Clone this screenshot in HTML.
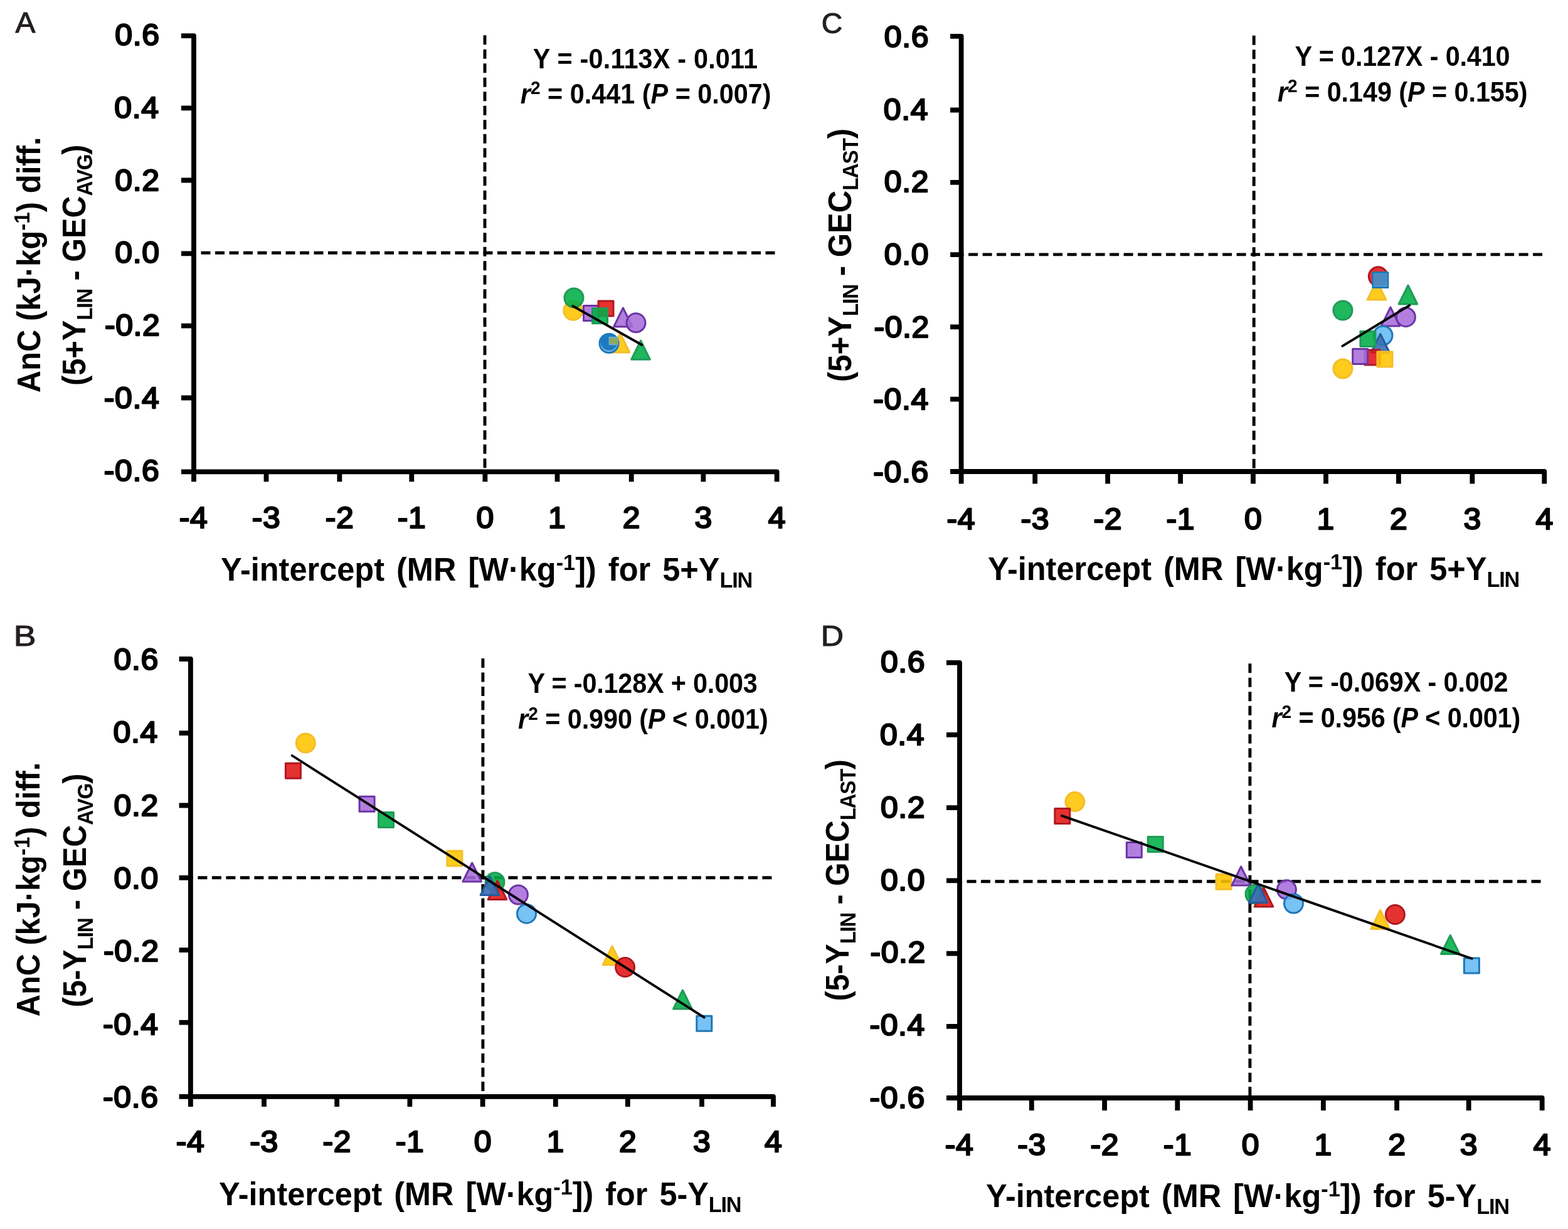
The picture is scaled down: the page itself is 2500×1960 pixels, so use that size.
<!DOCTYPE html>
<html lang="en"><head><meta charset="utf-8"><title>Figure</title>
<style>html,body{margin:0;padding:0;background:#fff}svg{display:block}text{white-space:pre}</style></head>
<body>
<svg width="2500" height="1960" viewBox="0 0 2500 1960">
<rect width="2500" height="1960" fill="#ffffff"/>
<g id="panelA">
<g stroke="#000" stroke-width="4.9" stroke-dasharray="15.0 7.5" fill="none"><line x1="309.0" y1="403.2" x2="1242.5" y2="403.2" stroke-dashoffset="11.0"/><line x1="773.0" y1="56.2" x2="773.0" y2="752.3" stroke-dashoffset="22.5"/></g>
<g><circle cx="913.8" cy="495.3" r="15.0" fill="#FFC400" fill-opacity="0.88" stroke="#F3BE2A" stroke-width="3.0" stroke-linejoin="round"/><circle cx="915.0" cy="475.0" r="15.0" fill="#00AE47" fill-opacity="0.88" stroke="#1F9A58" stroke-width="3.0" stroke-linejoin="round"/><rect x="930.5" y="487.6" width="24.0" height="24.0" fill="#A86DDB" fill-opacity="0.88" stroke="#6C34A4" stroke-width="3.0" stroke-linejoin="round"/><rect x="954.0" y="480.0" width="24.0" height="24.0" fill="#E21515" fill-opacity="0.88" stroke="#B01820" stroke-width="3.0" stroke-linejoin="round"/><rect x="944.5" y="491.7" width="24.0" height="24.0" fill="#00AE47" fill-opacity="0.88" stroke="#1F9A58" stroke-width="3.0" stroke-linejoin="round"/><polygon points="993.4,491.0 1008.2,521.0 978.6,521.0" fill="#A86DDB" fill-opacity="0.88" stroke="#6C34A4" stroke-width="3.0" stroke-linejoin="round"/><circle cx="1014.0" cy="514.8" r="15.0" fill="#A86DDB" fill-opacity="0.88" stroke="#6C34A4" stroke-width="3.0" stroke-linejoin="round"/><polygon points="989.0,532.0 1003.8,562.0 974.2,562.0" fill="#FFC400" fill-opacity="0.88" stroke="#F3BE2A" stroke-width="3.0" stroke-linejoin="round"/><circle cx="971.0" cy="547.5" r="15.0" fill="#65BAF4" fill-opacity="0.88" stroke="#1E78B6" stroke-width="3.0" stroke-linejoin="round"/><circle cx="971" cy="545.6" r="13.3" fill="#1D7AC2"/><rect x="971.4" y="537.8" width="13.6" height="11.8" fill="#8FA85E" stroke="#6FAFD6" stroke-width="1.6"/><polygon points="1021.5,543.2 1036.3,573.2 1006.7,573.2" fill="#00AE47" fill-opacity="0.88" stroke="#1F9A58" stroke-width="3.0" stroke-linejoin="round"/></g>
<line x1="913.2" y1="488.0" x2="1023.3" y2="550.0" stroke="#000" stroke-width="3.8" stroke-linecap="round"/>
<path d="M289.0 57.2 H309.0 V752.3 H1238.6 V768.3" stroke="#000" stroke-width="7.8" fill="none" stroke-linejoin="round"/>
<path d="M289.0 172.4 H309.0M289.0 287.5 H309.0M289.0 404.3 H309.0M289.0 519.6 H309.0M289.0 634.5 H309.0M289.0 752.3 H309.0M309.0 752.3 V768.3M424.5 752.3 V768.3M541.4 752.3 V768.3M656.3 752.3 V768.3M773.4 752.3 V768.3M888.5 752.3 V768.3M1006.7 752.3 V768.3M1121.4 752.3 V768.3" stroke="#000" stroke-width="7.8" fill="none"/>
</g>
<g id="panelB">
<g stroke="#000" stroke-width="4.9" stroke-dasharray="15.0 7.5" fill="none"><line x1="303.9" y1="1399.8" x2="1236.9" y2="1399.8" stroke-dashoffset="11.0"/><line x1="769.9" y1="1050.0" x2="769.9" y2="1748.8" stroke-dashoffset="22.5"/></g>
<g><circle cx="487.3" cy="1185.0" r="15.0" fill="#FFC400" fill-opacity="0.88" stroke="#F3BE2A" stroke-width="3.0" stroke-linejoin="round"/><rect x="455.4" y="1217.3" width="24.0" height="24.0" fill="#E21515" fill-opacity="0.88" stroke="#B01820" stroke-width="3.0" stroke-linejoin="round"/><rect x="573.1" y="1270.2" width="24.0" height="24.0" fill="#A86DDB" fill-opacity="0.88" stroke="#6C34A4" stroke-width="3.0" stroke-linejoin="round"/><rect x="603.5" y="1295.4" width="24.0" height="24.0" fill="#00AE47" fill-opacity="0.88" stroke="#1F9A58" stroke-width="3.0" stroke-linejoin="round"/><rect x="712.9" y="1356.9" width="24.0" height="24.0" fill="#FFC400" fill-opacity="0.88" stroke="#F3BE2A" stroke-width="3.0" stroke-linejoin="round"/><polygon points="752.7,1376.0 767.5,1406.0 737.9,1406.0" fill="#A86DDB" fill-opacity="0.88" stroke="#6C34A4" stroke-width="3.0" stroke-linejoin="round"/><circle cx="789.0" cy="1406.7" r="15.0" fill="#00AE47" fill-opacity="0.88" stroke="#1F9A58" stroke-width="3.0" stroke-linejoin="round"/><polygon points="793.0,1404.5 807.8,1434.5 778.2,1434.5" fill="#E21515" fill-opacity="0.88" stroke="#B01820" stroke-width="3.0" stroke-linejoin="round"/><polygon points="781.0,1397.5 795.8,1427.5 766.2,1427.5" fill="#3D6FB4" fill-opacity="0.92" stroke="#235C9E" stroke-width="3.0" stroke-linejoin="round"/><circle cx="826.4" cy="1427.0" r="15.0" fill="#A86DDB" fill-opacity="0.88" stroke="#6C34A4" stroke-width="3.0" stroke-linejoin="round"/><circle cx="839.5" cy="1457.2" r="15.0" fill="#65BAF4" fill-opacity="0.88" stroke="#1E78B6" stroke-width="3.0" stroke-linejoin="round"/><polygon points="976.0,1508.8 990.8,1538.8 961.2,1538.8" fill="#FFC400" fill-opacity="0.88" stroke="#F3BE2A" stroke-width="3.0" stroke-linejoin="round"/><circle cx="996.6" cy="1542.6" r="15.0" fill="#E21515" fill-opacity="0.88" stroke="#B01820" stroke-width="3.0" stroke-linejoin="round"/><polygon points="1088.4,1579.0 1103.2,1609.0 1073.6,1609.0" fill="#00AE47" fill-opacity="0.88" stroke="#1F9A58" stroke-width="3.0" stroke-linejoin="round"/><rect x="1110.8" y="1620.3" width="24.0" height="24.0" fill="#65BAF4" fill-opacity="0.88" stroke="#1E78B6" stroke-width="3.0" stroke-linejoin="round"/></g>
<line x1="465.7" y1="1205.0" x2="1122.8" y2="1622.6" stroke="#000" stroke-width="3.8" stroke-linecap="round"/>
<path d="M285.6 1051.0 H303.9 V1748.8 H1233.0 V1765.1" stroke="#000" stroke-width="7.8" fill="none" stroke-linejoin="round"/>
<path d="M285.6 1169.2 H303.9M285.6 1284.5 H303.9M285.6 1399.9 H303.9M285.6 1515.2 H303.9M285.6 1630.6 H303.9M285.6 1748.8 H303.9M303.9 1748.8 V1765.1M421.0 1748.8 V1765.1M537.2 1748.8 V1765.1M653.4 1748.8 V1765.1M769.6 1748.8 V1765.1M885.8 1748.8 V1765.1M1000.8 1748.8 V1765.1M1119.0 1748.8 V1765.1" stroke="#000" stroke-width="7.8" fill="none"/>
</g>
<g id="panelC">
<g stroke="#000" stroke-width="4.9" stroke-dasharray="15.0 7.5" fill="none"><line x1="1532.6" y1="405.9" x2="2466.2" y2="405.9" stroke-dashoffset="11.0"/><line x1="1999.2" y1="56.8" x2="1999.2" y2="752.0" stroke-dashoffset="22.5"/></g>
<g><polygon points="2195.0,448.0 2209.8,478.0 2180.2,478.0" fill="#FFC400" fill-opacity="0.88" stroke="#F3BE2A" stroke-width="3.0" stroke-linejoin="round"/><circle cx="2197.3" cy="440.8" r="15.0" fill="#E21515" fill-opacity="0.88" stroke="#B01820" stroke-width="3.0" stroke-linejoin="round"/><rect x="2188.9" y="434.4" width="24.0" height="24.0" fill="#65BAF4" fill-opacity="0.88" stroke="#1E78B6" stroke-width="3.0" stroke-linejoin="round"/><rect x="2190.9" y="436.4" width="20" height="20" fill="#3F7FB8" fill-opacity="0.75"/><circle cx="2141.0" cy="495.0" r="15.0" fill="#00AE47" fill-opacity="0.88" stroke="#1F9A58" stroke-width="3.0" stroke-linejoin="round"/><polygon points="2245.0,455.0 2259.8,485.0 2230.2,485.0" fill="#00AE47" fill-opacity="0.88" stroke="#1F9A58" stroke-width="3.0" stroke-linejoin="round"/><polygon points="2217.0,490.0 2231.8,520.0 2202.2,520.0" fill="#A86DDB" fill-opacity="0.88" stroke="#6C34A4" stroke-width="3.0" stroke-linejoin="round"/><circle cx="2241.4" cy="505.7" r="15.0" fill="#A86DDB" fill-opacity="0.88" stroke="#6C34A4" stroke-width="3.0" stroke-linejoin="round"/><circle cx="2205.0" cy="535.0" r="15.0" fill="#65BAF4" fill-opacity="0.88" stroke="#1E78B6" stroke-width="3.0" stroke-linejoin="round"/><polygon points="2200.8,532.5 2215.6,562.5 2186.0,562.5" fill="#3D6FB4" fill-opacity="0.92" stroke="#235C9E" stroke-width="3.0" stroke-linejoin="round"/><rect x="2169.0" y="528.5" width="24.0" height="24.0" fill="#00AE47" fill-opacity="0.88" stroke="#1F9A58" stroke-width="3.0" stroke-linejoin="round"/><rect x="2176.0" y="558.0" width="24.0" height="24.0" fill="#E21515" fill-opacity="0.88" stroke="#B01820" stroke-width="3.0" stroke-linejoin="round"/><rect x="2156.7" y="556.6" width="24.0" height="24.0" fill="#A86DDB" fill-opacity="0.88" stroke="#6C34A4" stroke-width="3.0" stroke-linejoin="round"/><rect x="2196.0" y="561.0" width="24.0" height="24.0" fill="#FFC400" fill-opacity="0.88" stroke="#F3BE2A" stroke-width="3.0" stroke-linejoin="round"/><circle cx="2141.0" cy="588.0" r="15.0" fill="#FFC400" fill-opacity="0.88" stroke="#F3BE2A" stroke-width="3.0" stroke-linejoin="round"/></g>
<line x1="2140.4" y1="551.8" x2="2247.2" y2="487.1" stroke="#000" stroke-width="3.8" stroke-linecap="round"/>
<path d="M1515.1 57.8 H1532.6 V752.0 H2462.3 V771.4" stroke="#000" stroke-width="7.8" fill="none" stroke-linejoin="round"/>
<path d="M1515.1 175.5 H1532.6M1515.1 290.8 H1532.6M1515.1 406.1 H1532.6M1515.1 521.4 H1532.6M1515.1 636.7 H1532.6M1515.1 752.0 H1532.6M1532.6 752.0 V771.4M1650.2 752.0 V771.4M1766.1 752.0 V771.4M1882.1 752.0 V771.4M1998.0 752.0 V771.4M2114.0 752.0 V771.4M2229.9 752.0 V771.4M2347.4 752.0 V771.4" stroke="#000" stroke-width="7.8" fill="none"/>
</g>
<g id="panelD">
<g stroke="#000" stroke-width="4.9" stroke-dasharray="15.0 7.5" fill="none"><line x1="1530.0" y1="1405.7" x2="2462.6" y2="1405.7" stroke-dashoffset="11.0"/><line x1="1992.9" y1="1055.8" x2="1992.9" y2="1751.0" stroke-dashoffset="20.0"/></g>
<g><circle cx="1713.8" cy="1278.6" r="15.0" fill="#FFC400" fill-opacity="0.88" stroke="#F3BE2A" stroke-width="3.0" stroke-linejoin="round"/><rect x="1681.8" y="1289.6" width="24.0" height="24.0" fill="#E21515" fill-opacity="0.88" stroke="#B01820" stroke-width="3.0" stroke-linejoin="round"/><rect x="1796.3" y="1343.6" width="24.0" height="24.0" fill="#A86DDB" fill-opacity="0.88" stroke="#6C34A4" stroke-width="3.0" stroke-linejoin="round"/><rect x="1830.2" y="1334.5" width="24.0" height="24.0" fill="#00AE47" fill-opacity="0.88" stroke="#1F9A58" stroke-width="3.0" stroke-linejoin="round"/><rect x="1939.0" y="1394.2" width="24.0" height="24.0" fill="#FFC400" fill-opacity="0.88" stroke="#F3BE2A" stroke-width="3.0" stroke-linejoin="round"/><polygon points="1978.7,1382.0 1993.5,1412.0 1963.9,1412.0" fill="#A86DDB" fill-opacity="0.88" stroke="#6C34A4" stroke-width="3.0" stroke-linejoin="round"/><circle cx="2001.0" cy="1426.0" r="15.0" fill="#00AE47" fill-opacity="0.88" stroke="#1F9A58" stroke-width="3.0" stroke-linejoin="round"/><polygon points="2015.0,1416.0 2029.8,1446.0 2000.2,1446.0" fill="#E21515" fill-opacity="0.88" stroke="#B01820" stroke-width="3.0" stroke-linejoin="round"/><polygon points="2006.0,1409.5 2020.8,1439.5 1991.2,1439.5" fill="#3D6FB4" fill-opacity="0.92" stroke="#235C9E" stroke-width="3.0" stroke-linejoin="round"/><circle cx="2051.4" cy="1418.8" r="15.0" fill="#A86DDB" fill-opacity="0.88" stroke="#6C34A4" stroke-width="3.0" stroke-linejoin="round"/><circle cx="2062.5" cy="1441.0" r="15.0" fill="#65BAF4" fill-opacity="0.88" stroke="#1E78B6" stroke-width="3.0" stroke-linejoin="round"/><polygon points="2200.7,1451.5 2215.5,1481.5 2185.9,1481.5" fill="#FFC400" fill-opacity="0.88" stroke="#F3BE2A" stroke-width="3.0" stroke-linejoin="round"/><circle cx="2224.4" cy="1458.6" r="15.0" fill="#E21515" fill-opacity="0.88" stroke="#B01820" stroke-width="3.0" stroke-linejoin="round"/><polygon points="2312.3,1491.5 2327.1,1521.5 2297.5,1521.5" fill="#00AE47" fill-opacity="0.88" stroke="#1F9A58" stroke-width="3.0" stroke-linejoin="round"/><rect x="2334.4" y="1528.0" width="24.0" height="24.0" fill="#65BAF4" fill-opacity="0.88" stroke="#1E78B6" stroke-width="3.0" stroke-linejoin="round"/></g>
<line x1="1692.8" y1="1300.9" x2="2346.7" y2="1528.8" stroke="#000" stroke-width="3.8" stroke-linecap="round"/>
<path d="M1509.0 1056.8 H1530.0 V1751.0 H2458.7 V1771.0" stroke="#000" stroke-width="7.8" fill="none" stroke-linejoin="round"/>
<path d="M1509.0 1171.8 H1530.0M1509.0 1288.1 H1530.0M1509.0 1404.3 H1530.0M1509.0 1520.6 H1530.0M1509.0 1636.9 H1530.0M1509.0 1751.0 H1530.0M1530.0 1751.0 V1771.0M1644.8 1751.0 V1771.0M1761.1 1751.0 V1771.0M1877.3 1751.0 V1771.0M1993.6 1751.0 V1771.0M2109.9 1751.0 V1771.0M2227.1 1751.0 V1771.0M2341.7 1751.0 V1771.0" stroke="#000" stroke-width="7.8" fill="none"/>
</g>
<g id="labels">
<g transform="translate(24.60 52.30) scale(1.0188 1)"><text font-family="Liberation Sans, sans-serif" font-weight="normal" font-size="47" fill="#231f20" stroke="#231f20" stroke-width="1.1" stroke-linejoin="round" letter-spacing="0.000"><tspan>A</tspan></text></g>
<g transform="translate(21.78 1029.50) scale(1.1385 1)"><text font-family="Liberation Sans, sans-serif" font-weight="normal" font-size="47" fill="#231f20" stroke="#231f20" stroke-width="1.1" stroke-linejoin="round" letter-spacing="0.000"><tspan>B</tspan></text></g>
<g transform="translate(1309.63 52.60) scale(0.9871 1)"><text font-family="Liberation Sans, sans-serif" font-weight="normal" font-size="47" fill="#231f20" stroke="#231f20" stroke-width="1.1" stroke-linejoin="round" letter-spacing="0.000"><tspan>C</tspan></text></g>
<g transform="translate(1308.79 1029.50) scale(1.0690 1)"><text font-family="Liberation Sans, sans-serif" font-weight="normal" font-size="47" fill="#231f20" stroke="#231f20" stroke-width="1.1" stroke-linejoin="round" letter-spacing="0.000"><tspan>D</tspan></text></g>
<g transform="translate(183.36 71.80) scale(1.0300 1)"><text font-family="Liberation Sans, sans-serif" font-weight="normal" font-size="48.5" fill="#000" stroke="#000" stroke-width="2.4" stroke-linejoin="round" letter-spacing="0.600"><tspan>0.6</tspan></text></g>
<g transform="translate(182.33 187.65) scale(1.0300 1)"><text font-family="Liberation Sans, sans-serif" font-weight="normal" font-size="48.5" fill="#000" stroke="#000" stroke-width="2.4" stroke-linejoin="round" letter-spacing="0.600"><tspan>0.4</tspan></text></g>
<g transform="translate(183.36 303.50) scale(1.0300 1)"><text font-family="Liberation Sans, sans-serif" font-weight="normal" font-size="48.5" fill="#000" stroke="#000" stroke-width="2.4" stroke-linejoin="round" letter-spacing="0.600"><tspan>0.2</tspan></text></g>
<g transform="translate(183.36 419.35) scale(1.0300 1)"><text font-family="Liberation Sans, sans-serif" font-weight="normal" font-size="48.5" fill="#000" stroke="#000" stroke-width="2.4" stroke-linejoin="round" letter-spacing="0.600"><tspan>0.0</tspan></text></g>
<g transform="translate(166.88 535.20) scale(1.0300 1)"><text font-family="Liberation Sans, sans-serif" font-weight="normal" font-size="48.5" fill="#000" stroke="#000" stroke-width="2.4" stroke-linejoin="round" letter-spacing="0.600"><tspan>-0.2</tspan></text></g>
<g transform="translate(165.85 651.05) scale(1.0300 1)"><text font-family="Liberation Sans, sans-serif" font-weight="normal" font-size="48.5" fill="#000" stroke="#000" stroke-width="2.4" stroke-linejoin="round" letter-spacing="0.600"><tspan>-0.4</tspan></text></g>
<g transform="translate(165.85 766.90) scale(1.0300 1)"><text font-family="Liberation Sans, sans-serif" font-weight="normal" font-size="48.5" fill="#000" stroke="#000" stroke-width="2.4" stroke-linejoin="round" letter-spacing="0.600"><tspan>-0.6</tspan></text></g>
<g transform="translate(285.83 841.80) scale(1.0300 1)"><text font-family="Liberation Sans, sans-serif" font-weight="normal" font-size="48.5" fill="#000" stroke="#000" stroke-width="2.4" stroke-linejoin="round" letter-spacing="0.600"><tspan>-4</tspan></text></g>
<g transform="translate(401.84 841.80) scale(1.0300 1)"><text font-family="Liberation Sans, sans-serif" font-weight="normal" font-size="48.5" fill="#000" stroke="#000" stroke-width="2.4" stroke-linejoin="round" letter-spacing="0.600"><tspan>-3</tspan></text></g>
<g transform="translate(518.74 841.80) scale(1.0300 1)"><text font-family="Liberation Sans, sans-serif" font-weight="normal" font-size="48.5" fill="#000" stroke="#000" stroke-width="2.4" stroke-linejoin="round" letter-spacing="0.600"><tspan>-2</tspan></text></g>
<g transform="translate(633.64 841.80) scale(1.0300 1)"><text font-family="Liberation Sans, sans-serif" font-weight="normal" font-size="48.5" fill="#000" stroke="#000" stroke-width="2.4" stroke-linejoin="round" letter-spacing="0.600"><tspan>-1</tspan></text></g>
<g transform="translate(759.50 841.80) scale(1.0300 1)"><text font-family="Liberation Sans, sans-serif" font-weight="normal" font-size="48.5" fill="#000" stroke="#000" stroke-width="2.4" stroke-linejoin="round" letter-spacing="0.600"><tspan>0</tspan></text></g>
<g transform="translate(874.08 841.80) scale(1.0300 1)"><text font-family="Liberation Sans, sans-serif" font-weight="normal" font-size="48.5" fill="#000" stroke="#000" stroke-width="2.4" stroke-linejoin="round" letter-spacing="0.600"><tspan>1</tspan></text></g>
<g transform="translate(992.80 841.80) scale(1.0300 1)"><text font-family="Liberation Sans, sans-serif" font-weight="normal" font-size="48.5" fill="#000" stroke="#000" stroke-width="2.4" stroke-linejoin="round" letter-spacing="0.600"><tspan>2</tspan></text></g>
<g transform="translate(1107.50 841.80) scale(1.0300 1)"><text font-family="Liberation Sans, sans-serif" font-weight="normal" font-size="48.5" fill="#000" stroke="#000" stroke-width="2.4" stroke-linejoin="round" letter-spacing="0.600"><tspan>3</tspan></text></g>
<g transform="translate(1224.69 841.80) scale(1.0300 1)"><text font-family="Liberation Sans, sans-serif" font-weight="normal" font-size="48.5" fill="#000" stroke="#000" stroke-width="2.4" stroke-linejoin="round" letter-spacing="0.600"><tspan>4</tspan></text></g>
<g transform="translate(181.56 1068.00) scale(1.0300 1)"><text font-family="Liberation Sans, sans-serif" font-weight="normal" font-size="48.5" fill="#000" stroke="#000" stroke-width="2.4" stroke-linejoin="round" letter-spacing="0.600"><tspan>0.6</tspan></text></g>
<g transform="translate(180.53 1184.30) scale(1.0300 1)"><text font-family="Liberation Sans, sans-serif" font-weight="normal" font-size="48.5" fill="#000" stroke="#000" stroke-width="2.4" stroke-linejoin="round" letter-spacing="0.600"><tspan>0.4</tspan></text></g>
<g transform="translate(181.56 1300.60) scale(1.0300 1)"><text font-family="Liberation Sans, sans-serif" font-weight="normal" font-size="48.5" fill="#000" stroke="#000" stroke-width="2.4" stroke-linejoin="round" letter-spacing="0.600"><tspan>0.2</tspan></text></g>
<g transform="translate(181.56 1416.90) scale(1.0300 1)"><text font-family="Liberation Sans, sans-serif" font-weight="normal" font-size="48.5" fill="#000" stroke="#000" stroke-width="2.4" stroke-linejoin="round" letter-spacing="0.600"><tspan>0.0</tspan></text></g>
<g transform="translate(165.08 1533.20) scale(1.0300 1)"><text font-family="Liberation Sans, sans-serif" font-weight="normal" font-size="48.5" fill="#000" stroke="#000" stroke-width="2.4" stroke-linejoin="round" letter-spacing="0.600"><tspan>-0.2</tspan></text></g>
<g transform="translate(164.05 1649.50) scale(1.0300 1)"><text font-family="Liberation Sans, sans-serif" font-weight="normal" font-size="48.5" fill="#000" stroke="#000" stroke-width="2.4" stroke-linejoin="round" letter-spacing="0.600"><tspan>-0.4</tspan></text></g>
<g transform="translate(164.05 1765.80) scale(1.0300 1)"><text font-family="Liberation Sans, sans-serif" font-weight="normal" font-size="48.5" fill="#000" stroke="#000" stroke-width="2.4" stroke-linejoin="round" letter-spacing="0.600"><tspan>-0.6</tspan></text></g>
<g transform="translate(280.73 1837.30) scale(1.0300 1)"><text font-family="Liberation Sans, sans-serif" font-weight="normal" font-size="48.5" fill="#000" stroke="#000" stroke-width="2.4" stroke-linejoin="round" letter-spacing="0.600"><tspan>-4</tspan></text></g>
<g transform="translate(398.34 1837.30) scale(1.0300 1)"><text font-family="Liberation Sans, sans-serif" font-weight="normal" font-size="48.5" fill="#000" stroke="#000" stroke-width="2.4" stroke-linejoin="round" letter-spacing="0.600"><tspan>-3</tspan></text></g>
<g transform="translate(514.54 1837.30) scale(1.0300 1)"><text font-family="Liberation Sans, sans-serif" font-weight="normal" font-size="48.5" fill="#000" stroke="#000" stroke-width="2.4" stroke-linejoin="round" letter-spacing="0.600"><tspan>-2</tspan></text></g>
<g transform="translate(630.74 1837.30) scale(1.0300 1)"><text font-family="Liberation Sans, sans-serif" font-weight="normal" font-size="48.5" fill="#000" stroke="#000" stroke-width="2.4" stroke-linejoin="round" letter-spacing="0.600"><tspan>-1</tspan></text></g>
<g transform="translate(755.69 1837.30) scale(1.0300 1)"><text font-family="Liberation Sans, sans-serif" font-weight="normal" font-size="48.5" fill="#000" stroke="#000" stroke-width="2.4" stroke-linejoin="round" letter-spacing="0.600"><tspan>0</tspan></text></g>
<g transform="translate(871.38 1837.30) scale(1.0300 1)"><text font-family="Liberation Sans, sans-serif" font-weight="normal" font-size="48.5" fill="#000" stroke="#000" stroke-width="2.4" stroke-linejoin="round" letter-spacing="0.600"><tspan>1</tspan></text></g>
<g transform="translate(986.89 1837.30) scale(1.0300 1)"><text font-family="Liberation Sans, sans-serif" font-weight="normal" font-size="48.5" fill="#000" stroke="#000" stroke-width="2.4" stroke-linejoin="round" letter-spacing="0.600"><tspan>2</tspan></text></g>
<g transform="translate(1105.10 1837.30) scale(1.0300 1)"><text font-family="Liberation Sans, sans-serif" font-weight="normal" font-size="48.5" fill="#000" stroke="#000" stroke-width="2.4" stroke-linejoin="round" letter-spacing="0.600"><tspan>3</tspan></text></g>
<g transform="translate(1219.10 1837.30) scale(1.0300 1)"><text font-family="Liberation Sans, sans-serif" font-weight="normal" font-size="48.5" fill="#000" stroke="#000" stroke-width="2.4" stroke-linejoin="round" letter-spacing="0.600"><tspan>4</tspan></text></g>
<g transform="translate(1409.86 74.80) scale(1.0300 1)"><text font-family="Liberation Sans, sans-serif" font-weight="normal" font-size="48.5" fill="#000" stroke="#000" stroke-width="2.4" stroke-linejoin="round" letter-spacing="0.600"><tspan>0.6</tspan></text></g>
<g transform="translate(1408.83 190.50) scale(1.0300 1)"><text font-family="Liberation Sans, sans-serif" font-weight="normal" font-size="48.5" fill="#000" stroke="#000" stroke-width="2.4" stroke-linejoin="round" letter-spacing="0.600"><tspan>0.4</tspan></text></g>
<g transform="translate(1409.86 306.20) scale(1.0300 1)"><text font-family="Liberation Sans, sans-serif" font-weight="normal" font-size="48.5" fill="#000" stroke="#000" stroke-width="2.4" stroke-linejoin="round" letter-spacing="0.600"><tspan>0.2</tspan></text></g>
<g transform="translate(1409.86 421.90) scale(1.0300 1)"><text font-family="Liberation Sans, sans-serif" font-weight="normal" font-size="48.5" fill="#000" stroke="#000" stroke-width="2.4" stroke-linejoin="round" letter-spacing="0.600"><tspan>0.0</tspan></text></g>
<g transform="translate(1393.38 537.60) scale(1.0300 1)"><text font-family="Liberation Sans, sans-serif" font-weight="normal" font-size="48.5" fill="#000" stroke="#000" stroke-width="2.4" stroke-linejoin="round" letter-spacing="0.600"><tspan>-0.2</tspan></text></g>
<g transform="translate(1392.35 653.30) scale(1.0300 1)"><text font-family="Liberation Sans, sans-serif" font-weight="normal" font-size="48.5" fill="#000" stroke="#000" stroke-width="2.4" stroke-linejoin="round" letter-spacing="0.600"><tspan>-0.4</tspan></text></g>
<g transform="translate(1392.35 769.00) scale(1.0300 1)"><text font-family="Liberation Sans, sans-serif" font-weight="normal" font-size="48.5" fill="#000" stroke="#000" stroke-width="2.4" stroke-linejoin="round" letter-spacing="0.600"><tspan>-0.6</tspan></text></g>
<g transform="translate(1509.42 843.80) scale(1.0300 1)"><text font-family="Liberation Sans, sans-serif" font-weight="normal" font-size="48.5" fill="#000" stroke="#000" stroke-width="2.4" stroke-linejoin="round" letter-spacing="0.600"><tspan>-4</tspan></text></g>
<g transform="translate(1627.54 843.80) scale(1.0300 1)"><text font-family="Liberation Sans, sans-serif" font-weight="normal" font-size="48.5" fill="#000" stroke="#000" stroke-width="2.4" stroke-linejoin="round" letter-spacing="0.600"><tspan>-3</tspan></text></g>
<g transform="translate(1743.48 843.80) scale(1.0300 1)"><text font-family="Liberation Sans, sans-serif" font-weight="normal" font-size="48.5" fill="#000" stroke="#000" stroke-width="2.4" stroke-linejoin="round" letter-spacing="0.600"><tspan>-2</tspan></text></g>
<g transform="translate(1859.42 843.80) scale(1.0300 1)"><text font-family="Liberation Sans, sans-serif" font-weight="normal" font-size="48.5" fill="#000" stroke="#000" stroke-width="2.4" stroke-linejoin="round" letter-spacing="0.600"><tspan>-1</tspan></text></g>
<g transform="translate(1984.12 843.80) scale(1.0300 1)"><text font-family="Liberation Sans, sans-serif" font-weight="normal" font-size="48.5" fill="#000" stroke="#000" stroke-width="2.4" stroke-linejoin="round" letter-spacing="0.600"><tspan>0</tspan></text></g>
<g transform="translate(2099.54 843.80) scale(1.0300 1)"><text font-family="Liberation Sans, sans-serif" font-weight="normal" font-size="48.5" fill="#000" stroke="#000" stroke-width="2.4" stroke-linejoin="round" letter-spacing="0.600"><tspan>1</tspan></text></g>
<g transform="translate(2215.99 843.80) scale(1.0300 1)"><text font-family="Liberation Sans, sans-serif" font-weight="normal" font-size="48.5" fill="#000" stroke="#000" stroke-width="2.4" stroke-linejoin="round" letter-spacing="0.600"><tspan>2</tspan></text></g>
<g transform="translate(2333.49 843.80) scale(1.0300 1)"><text font-family="Liberation Sans, sans-serif" font-weight="normal" font-size="48.5" fill="#000" stroke="#000" stroke-width="2.4" stroke-linejoin="round" letter-spacing="0.600"><tspan>3</tspan></text></g>
<g transform="translate(2448.39 843.80) scale(1.0300 1)"><text font-family="Liberation Sans, sans-serif" font-weight="normal" font-size="48.5" fill="#000" stroke="#000" stroke-width="2.4" stroke-linejoin="round" letter-spacing="0.600"><tspan>4</tspan></text></g>
<g transform="translate(1403.96 1072.40) scale(1.0300 1)"><text font-family="Liberation Sans, sans-serif" font-weight="normal" font-size="48.5" fill="#000" stroke="#000" stroke-width="2.4" stroke-linejoin="round" letter-spacing="0.600"><tspan>0.6</tspan></text></g>
<g transform="translate(1402.93 1188.10) scale(1.0300 1)"><text font-family="Liberation Sans, sans-serif" font-weight="normal" font-size="48.5" fill="#000" stroke="#000" stroke-width="2.4" stroke-linejoin="round" letter-spacing="0.600"><tspan>0.4</tspan></text></g>
<g transform="translate(1403.96 1303.80) scale(1.0300 1)"><text font-family="Liberation Sans, sans-serif" font-weight="normal" font-size="48.5" fill="#000" stroke="#000" stroke-width="2.4" stroke-linejoin="round" letter-spacing="0.600"><tspan>0.2</tspan></text></g>
<g transform="translate(1403.96 1419.50) scale(1.0300 1)"><text font-family="Liberation Sans, sans-serif" font-weight="normal" font-size="48.5" fill="#000" stroke="#000" stroke-width="2.4" stroke-linejoin="round" letter-spacing="0.600"><tspan>0.0</tspan></text></g>
<g transform="translate(1387.48 1535.20) scale(1.0300 1)"><text font-family="Liberation Sans, sans-serif" font-weight="normal" font-size="48.5" fill="#000" stroke="#000" stroke-width="2.4" stroke-linejoin="round" letter-spacing="0.600"><tspan>-0.2</tspan></text></g>
<g transform="translate(1386.45 1650.90) scale(1.0300 1)"><text font-family="Liberation Sans, sans-serif" font-weight="normal" font-size="48.5" fill="#000" stroke="#000" stroke-width="2.4" stroke-linejoin="round" letter-spacing="0.600"><tspan>-0.4</tspan></text></g>
<g transform="translate(1386.45 1766.60) scale(1.0300 1)"><text font-family="Liberation Sans, sans-serif" font-weight="normal" font-size="48.5" fill="#000" stroke="#000" stroke-width="2.4" stroke-linejoin="round" letter-spacing="0.600"><tspan>-0.6</tspan></text></g>
<g transform="translate(1506.83 1842.30) scale(1.0300 1)"><text font-family="Liberation Sans, sans-serif" font-weight="normal" font-size="48.5" fill="#000" stroke="#000" stroke-width="2.4" stroke-linejoin="round" letter-spacing="0.600"><tspan>-4</tspan></text></g>
<g transform="translate(1622.14 1842.30) scale(1.0300 1)"><text font-family="Liberation Sans, sans-serif" font-weight="normal" font-size="48.5" fill="#000" stroke="#000" stroke-width="2.4" stroke-linejoin="round" letter-spacing="0.600"><tspan>-3</tspan></text></g>
<g transform="translate(1738.41 1842.30) scale(1.0300 1)"><text font-family="Liberation Sans, sans-serif" font-weight="normal" font-size="48.5" fill="#000" stroke="#000" stroke-width="2.4" stroke-linejoin="round" letter-spacing="0.600"><tspan>-2</tspan></text></g>
<g transform="translate(1854.69 1842.30) scale(1.0300 1)"><text font-family="Liberation Sans, sans-serif" font-weight="normal" font-size="48.5" fill="#000" stroke="#000" stroke-width="2.4" stroke-linejoin="round" letter-spacing="0.600"><tspan>-1</tspan></text></g>
<g transform="translate(1979.72 1842.30) scale(1.0300 1)"><text font-family="Liberation Sans, sans-serif" font-weight="normal" font-size="48.5" fill="#000" stroke="#000" stroke-width="2.4" stroke-linejoin="round" letter-spacing="0.600"><tspan>0</tspan></text></g>
<g transform="translate(2095.48 1842.30) scale(1.0300 1)"><text font-family="Liberation Sans, sans-serif" font-weight="normal" font-size="48.5" fill="#000" stroke="#000" stroke-width="2.4" stroke-linejoin="round" letter-spacing="0.600"><tspan>1</tspan></text></g>
<g transform="translate(2213.19 1842.30) scale(1.0300 1)"><text font-family="Liberation Sans, sans-serif" font-weight="normal" font-size="48.5" fill="#000" stroke="#000" stroke-width="2.4" stroke-linejoin="round" letter-spacing="0.600"><tspan>2</tspan></text></g>
<g transform="translate(2327.79 1842.30) scale(1.0300 1)"><text font-family="Liberation Sans, sans-serif" font-weight="normal" font-size="48.5" fill="#000" stroke="#000" stroke-width="2.4" stroke-linejoin="round" letter-spacing="0.600"><tspan>3</tspan></text></g>
<g transform="translate(2444.79 1842.30) scale(1.0300 1)"><text font-family="Liberation Sans, sans-serif" font-weight="normal" font-size="48.5" fill="#000" stroke="#000" stroke-width="2.4" stroke-linejoin="round" letter-spacing="0.600"><tspan>4</tspan></text></g>
<g transform="translate(352.01 926.00) scale(0.9906 1)"><text font-family="Liberation Sans, sans-serif" font-weight="bold" font-size="51" fill="#000" word-spacing="5" letter-spacing="0.000"><tspan>Y-intercept (MR [W·kg</tspan><tspan font-size="34.68" dy="-16.83">-1</tspan><tspan dy="16.83">]) for 5+Y</tspan><tspan font-size="34.68" letter-spacing="-1.200" dy="11.22">LIN</tspan></text></g>
<g transform="translate(1575.01 924.50) scale(0.9906 1)"><text font-family="Liberation Sans, sans-serif" font-weight="bold" font-size="51" fill="#000" word-spacing="5" letter-spacing="0.000"><tspan>Y-intercept (MR [W·kg</tspan><tspan font-size="34.68" dy="-16.83">-1</tspan><tspan dy="16.83">]) for 5+Y</tspan><tspan font-size="34.68" letter-spacing="-1.200" dy="11.22">LIN</tspan></text></g>
<g transform="translate(349.01 1922.00) scale(0.9881 1)"><text font-family="Liberation Sans, sans-serif" font-weight="bold" font-size="51" fill="#000" word-spacing="5" letter-spacing="0.000"><tspan>Y-intercept (MR [W·kg</tspan><tspan font-size="34.68" dy="-16.83">-1</tspan><tspan dy="16.83">]) for 5-Y</tspan><tspan font-size="34.68" letter-spacing="-1.200" dy="11.22">LIN</tspan></text></g>
<g transform="translate(1572.01 1924.50) scale(0.9899 1)"><text font-family="Liberation Sans, sans-serif" font-weight="bold" font-size="51" fill="#000" word-spacing="5" letter-spacing="0.000"><tspan>Y-intercept (MR [W·kg</tspan><tspan font-size="34.68" dy="-16.83">-1</tspan><tspan dy="16.83">]) for 5-Y</tspan><tspan font-size="34.68" letter-spacing="-1.200" dy="11.22">LIN</tspan></text></g>
<g transform="translate(63.60 626.36) rotate(-90) scale(0.9605 1)"><text font-family="Liberation Sans, sans-serif" font-weight="bold" font-size="51" fill="#000" letter-spacing="0.000"><tspan>AnC (kJ·kg</tspan><tspan font-size="34.68" dy="-16.83">-1</tspan><tspan dy="16.83">) diff.</tspan></text></g>
<g transform="translate(136.20 614.91) rotate(-90) scale(0.9536 1)"><text font-family="Liberation Sans, sans-serif" font-weight="bold" font-size="51" fill="#000" letter-spacing="0.000"><tspan>(5+Y</tspan><tspan font-size="34.68" letter-spacing="-1.200" dy="11.22">LIN</tspan><tspan dy="-11.22"> - GEC</tspan><tspan font-size="34.68" letter-spacing="-1.200" dy="11.22">AVG</tspan><tspan dy="-11.22">)</tspan></text></g>
<g transform="translate(63.40 1621.26) rotate(-90) scale(0.9555 1)"><text font-family="Liberation Sans, sans-serif" font-weight="bold" font-size="51" fill="#000" letter-spacing="0.000"><tspan>AnC (kJ·kg</tspan><tspan font-size="34.68" dy="-16.83">-1</tspan><tspan dy="16.83">) diff.</tspan></text></g>
<g transform="translate(136.50 1606.41) rotate(-90) scale(0.9552 1)"><text font-family="Liberation Sans, sans-serif" font-weight="bold" font-size="51" fill="#000" letter-spacing="0.000"><tspan>(5-Y</tspan><tspan font-size="34.68" letter-spacing="-1.200" dy="11.22">LIN</tspan><tspan dy="-11.22"> - GEC</tspan><tspan font-size="34.68" letter-spacing="-1.200" dy="11.22">AVG</tspan><tspan dy="-11.22">)</tspan></text></g>
<g transform="translate(1357.00 609.23) rotate(-90) scale(0.9630 1)"><text font-family="Liberation Sans, sans-serif" font-weight="bold" font-size="51" fill="#000" letter-spacing="0.000"><tspan>(5+Y</tspan><tspan font-size="34.68" letter-spacing="-1.200" dy="11.22">LIN</tspan><tspan dy="-11.22"> - GEC</tspan><tspan font-size="34.68" letter-spacing="-1.200" dy="11.22">LAST</tspan><tspan dy="-11.22">)</tspan></text></g>
<g transform="translate(1352.50 1596.59) rotate(-90) scale(0.9471 1)"><text font-family="Liberation Sans, sans-serif" font-weight="bold" font-size="51" fill="#000" letter-spacing="0.000"><tspan>(5-Y</tspan><tspan font-size="34.68" letter-spacing="-1.200" dy="11.22">LIN</tspan><tspan dy="-11.22"> - GEC</tspan><tspan font-size="34.68" letter-spacing="-1.200" dy="11.22">LAST</tspan><tspan dy="-11.22">)</tspan></text></g>
<g transform="translate(849.77 109.00) scale(0.9300 1)"><text font-family="Liberation Sans, sans-serif" font-weight="bold" font-size="44.5" fill="#000" letter-spacing="0.211"><tspan>Y = -0.113X - 0.011</tspan></text></g>
<g transform="translate(829.87 164.50) scale(0.9300 1)"><text font-family="Liberation Sans, sans-serif" font-weight="bold" font-size="44.5" fill="#000" letter-spacing="-0.006"><tspan font-style="italic">r</tspan><tspan font-size="30.26" dy="-14.69">2</tspan><tspan dy="14.69"> = 0.441 (</tspan><tspan font-style="italic">P</tspan><tspan> = 0.007)</tspan></text></g>
<g transform="translate(2064.57 105.00) scale(0.9300 1)"><text font-family="Liberation Sans, sans-serif" font-weight="bold" font-size="44.5" fill="#000" letter-spacing="-0.156"><tspan>Y = 0.127X - 0.410</tspan></text></g>
<g transform="translate(2037.07 161.60) scale(0.9300 1)"><text font-family="Liberation Sans, sans-serif" font-weight="bold" font-size="44.5" fill="#000" letter-spacing="-0.072"><tspan font-style="italic">r</tspan><tspan font-size="30.26" dy="-14.69">2</tspan><tspan dy="14.69"> = 0.149 (</tspan><tspan font-style="italic">P</tspan><tspan> = 0.155)</tspan></text></g>
<g transform="translate(841.57 1105.00) scale(0.9300 1)"><text font-family="Liberation Sans, sans-serif" font-weight="bold" font-size="44.5" fill="#000" letter-spacing="-0.206"><tspan>Y = -0.128X + 0.003</tspan></text></g>
<g transform="translate(826.07 1162.40) scale(0.9300 1)"><text font-family="Liberation Sans, sans-serif" font-weight="bold" font-size="44.5" fill="#000" letter-spacing="-0.067"><tspan font-style="italic">r</tspan><tspan font-size="30.26" dy="-14.69">2</tspan><tspan dy="14.69"> = 0.990 (</tspan><tspan font-style="italic">P</tspan><tspan> &lt; 0.001)</tspan></text></g>
<g transform="translate(2047.67 1102.60) scale(0.9300 1)"><text font-family="Liberation Sans, sans-serif" font-weight="bold" font-size="44.5" fill="#000" letter-spacing="-0.139"><tspan>Y = -0.069X - 0.002</tspan></text></g>
<g transform="translate(2027.57 1159.80) scale(0.9300 1)"><text font-family="Liberation Sans, sans-serif" font-weight="bold" font-size="44.5" fill="#000" letter-spacing="-0.164"><tspan font-style="italic">r</tspan><tspan font-size="30.26" dy="-14.69">2</tspan><tspan dy="14.69"> = 0.956 (</tspan><tspan font-style="italic">P</tspan><tspan> &lt; 0.001)</tspan></text></g>
</g>
</svg>
</body></html>
